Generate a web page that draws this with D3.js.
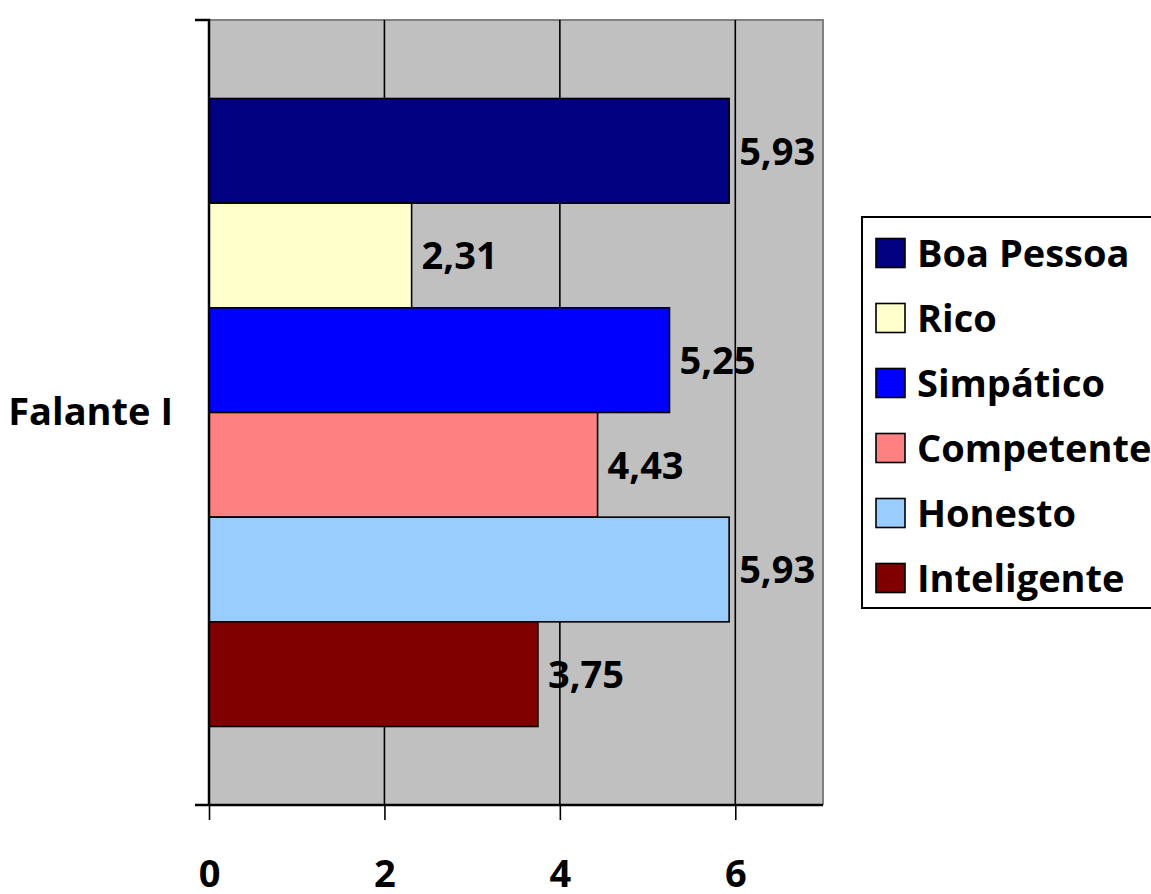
<!DOCTYPE html>
<html>
<head>
<meta charset="utf-8">
<script src="https://cdn.jsdelivr.net/npm/d3@7"></script>
<style>
  html, body { margin: 0; padding: 0; background: #fff; }
  svg { display: block; }
  text { font-family: "Open Sans", sans-serif; font-weight: bold; fill: #000; }
</style>
</head>
<body>
<svg id="chart" width="1151" height="894"></svg>
<script>
// Ratings for one speaker, one bar per attribute
const categories = ["Falante I"];
const seriesNames = ["Boa Pessoa", "Rico", "Simpático", "Competente", "Honesto", "Inteligente"];
const seriesValues = [5.93, 2.31, 5.25, 4.43, 5.93, 3.75];
const seriesColors = ["#000080", "#FFFFCC", "#0000FF", "#FF8080", "#99CCFF", "#800000"];
const xTicks = [0, 2, 4, 6];
const xMax = 7;

const svg = d3.select("#chart");
const plot = { left: 209, right: 823, top: 20, bottom: 805 };

const x = d3.scaleLinear().domain([0, xMax]).range([plot.left, plot.right]);
const yCat = d3.scaleBand().domain(categories).range([plot.top, plot.bottom]);
const ySer = d3.scaleBand().domain(seriesNames)
  .range([0, yCat.bandwidth()]).paddingInner(0).paddingOuter(0.75);

const fmt = v => d3.format(".2f")(v).replace(".", ",");

// plot background
svg.append("rect")
  .attr("x", plot.left).attr("y", plot.top)
  .attr("width", plot.right - plot.left).attr("height", plot.bottom - plot.top)
  .attr("fill", "#C0C0C0");

// top and right frame lines
svg.append("path")
  .attr("d", `M${plot.left},${plot.top}H${plot.right}V${plot.bottom}`)
  .attr("fill", "none").attr("stroke", "#808080").attr("stroke-width", 2);

// vertical gridlines
svg.append("g").selectAll("line")
  .data(xTicks.filter(t => t > 0))
  .join("line")
  .attr("x1", d => x(d)).attr("x2", d => x(d))
  .attr("y1", plot.top).attr("y2", plot.bottom)
  .attr("stroke", "#000").attr("stroke-width", 1.6);

// bars
const rows = seriesNames.map((name, i) => ({ name, value: seriesValues[i], color: seriesColors[i], cat: categories[0] }));

const barG = svg.append("g");
barG.selectAll("rect")
  .data(rows)
  .join("rect")
  .attr("x", x(0))
  .attr("y", d => yCat(d.cat) + ySer(d.name))
  .attr("width", d => x(d.value) - x(0))
  .attr("height", ySer.bandwidth())
  .attr("fill", d => d.color)
  .attr("stroke", "#000").attr("stroke-width", 1.6);

// value labels
barG.selectAll("text")
  .data(rows)
  .join("text")
  .attr("x", d => x(d.value) + 10)
  .attr("y", d => yCat(d.cat) + ySer(d.name) + ySer.bandwidth() / 2)
  .attr("dy", "0.36em")
  .attr("font-size", 38)
  .text(d => fmt(d.value));

// x axis
const xAxis = d3.axisBottom(x).tickValues(xTicks).tickSize(15).tickFormat(d3.format("d"));
const gx = svg.append("g").attr("transform", `translate(0,${plot.bottom})`).call(xAxis);
gx.select(".domain").attr("d", `M${plot.left - 14},0H${plot.right}`).attr("stroke", "#000").attr("stroke-width", 2.5);
gx.selectAll(".tick line").attr("stroke", "#000").attr("stroke-width", 1.6);
gx.selectAll(".tick text")
  .attr("y", 82).attr("dy", 0)
  .attr("font-size", 38)
  .style("font-family", "'Open Sans', sans-serif").style("font-weight", "bold");

// y axis
const yAxis = d3.axisLeft(yCat).tickSize(0).tickPadding(36);
const gy = svg.append("g").attr("transform", `translate(${plot.left},0)`).call(yAxis);
gy.select(".domain").attr("d", `M-14,${plot.top}H0V${plot.bottom}`).attr("fill", "none").attr("stroke", "#000").attr("stroke-width", 2.5);
gy.selectAll(".tick text")
  .attr("font-size", 38)
  .style("font-family", "'Open Sans', sans-serif").style("font-weight", "bold");

// legend
const legend = svg.append("g");
legend.append("rect")
  .attr("x", 862).attr("y", 217).attr("width", 300).attr("height", 391)
  .attr("fill", "#fff").attr("stroke", "#000").attr("stroke-width", 2);
const rowStep = 65;
const item = legend.selectAll("g.item")
  .data(rows)
  .join("g").attr("class", "item")
  .attr("transform", (d, i) => `translate(876,${253 + i * rowStep})`);
item.append("rect")
  .attr("x", 0).attr("y", -14.5).attr("width", 29).attr("height", 29)
  .attr("fill", d => d.color).attr("stroke", "#000").attr("stroke-width", 1.6);
item.append("text")
  .attr("x", 41).attr("dy", "0.36em")
  .attr("font-size", 38)
  .text(d => d.name);
</script>
</body>
</html>
